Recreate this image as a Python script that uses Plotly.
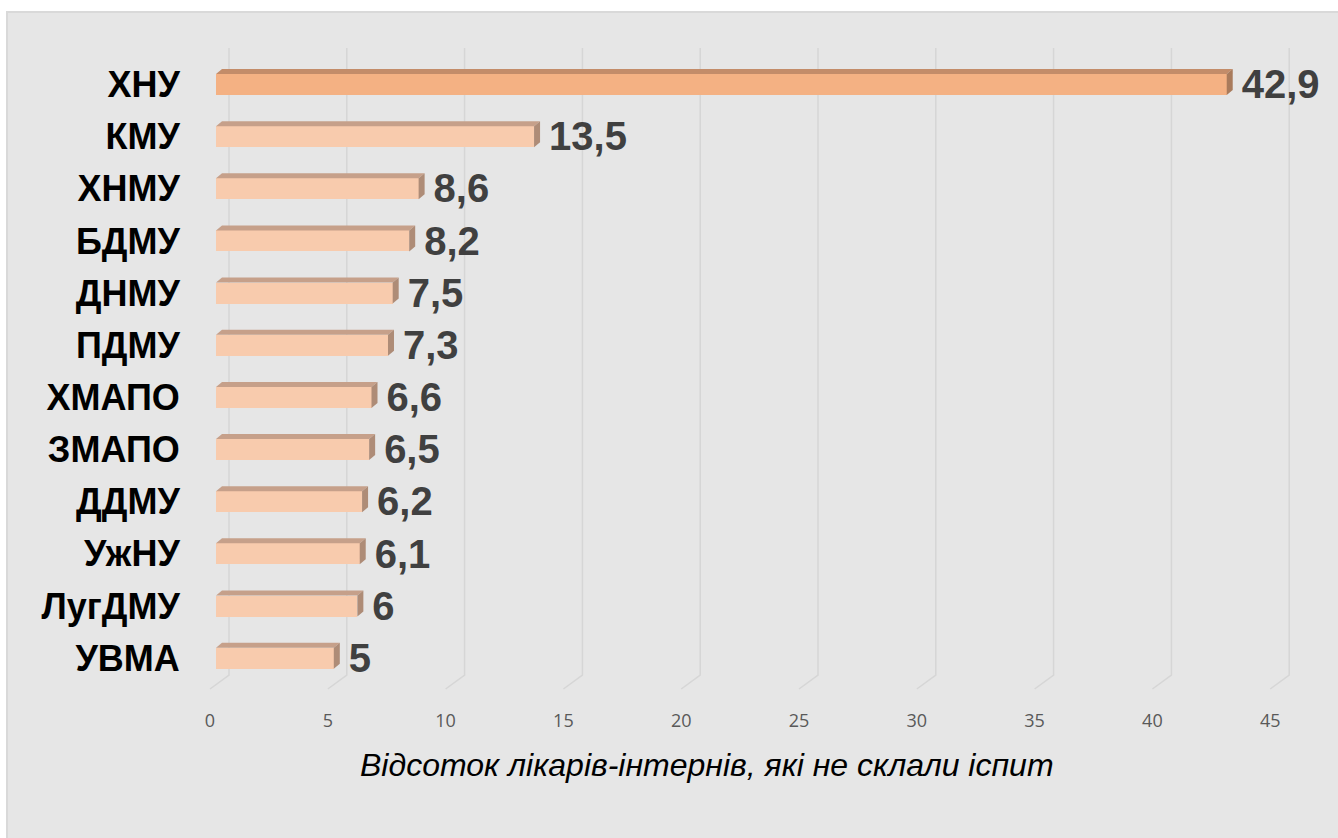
import plotly.graph_objects as go

# ---- data ----
categories = ["ХНУ", "КМУ", "ХНМУ", "БДМУ", "ДНМУ", "ПДМУ", "ХМАПО", "ЗМАПО", "ДДМУ", "УжНУ", "ЛугДМУ", "УВМА"]
values = [42.9, 13.5, 8.6, 8.2, 7.5, 7.3, 6.6, 6.5, 6.2, 6.1, 6, 5]
tick_values = [0, 5, 10, 15, 20, 25, 30, 35, 40, 45]
axis_title = "Відсоток лікарів-інтернів, які не склали іспит"

# ---- geometry (pixels) ----
W, H = 1338, 838
L, R, T, B = 195, 1310, 40, 695
SX = 23.56          # px per unit along x
SY = 52.15          # px per category
X0_FRONT = 210      # pixel of value 0 on front floor
Y0 = 84.5           # pixel of first category centre
BAR_SHIFT = 6       # bar front face offset from floor front (px)
DX, DY = 6, 5       # bar depth offsets (px)
BACK_DX = 19        # back wall offset (px)
GRID_TOP, GRID_BACK, GRID_FRONT = 48, 675, 689
BAR_H = 21
LABEL_GAP = 9

r0 = (L - X0_FRONT) / SX
r1 = (R - X0_FRONT) / SX
shift = BAR_SHIFT / SX
y_lo = (B - Y0) / SY
y_hi = (T - Y0) / SY

def ypx(p):
    return (p - Y0) / SY

pos = list(range(len(categories)))
dx = DX / SX
dy = DY / SY
hh = BAR_H / SY / 2

front_cols = ["#F4B183" if i == 0 else "#F8CBAD" for i in pos]
top_cols = ["#C38C69" if i == 0 else "#C6A08A" for i in pos]
side_cols = ["#A97B5C" if i == 0 else "#AE8C77" for i in pos]

fig = go.Figure()

# gridlines in perspective
for tv in tick_values:
    xb = tv + BACK_DX / SX
    fig.add_trace(go.Scatter(
        x=[xb, xb, tv], y=[ypx(GRID_TOP), ypx(GRID_BACK), ypx(GRID_FRONT)],
        mode="lines", line=dict(color="#D6D6D6", width=1.5),
        hoverinfo="skip", showlegend=False, xaxis="x", yaxis="y"))

# bars front faces
fig.add_trace(go.Bar(
    x=values, y=pos, orientation="h", width=2 * hh,
    marker=dict(color=front_cols, line=dict(width=0)),
    xaxis="x2", yaxis="y", showlegend=False, hoverinfo="x+y"))

# top and side faces
for i, v in zip(pos, values):
    top = i - hh
    bot = i + hh
    fig.add_trace(go.Scatter(
        x=[0, v, v + dx, dx, 0], y=[top, top, top - dy, top - dy, top],
        fill="toself", fillcolor=top_cols[i], mode="lines", line=dict(width=0, color=top_cols[i]),
        hoverinfo="skip", showlegend=False, xaxis="x2", yaxis="y"))
    fig.add_trace(go.Scatter(
        x=[v, v + dx, v + dx, v, v], y=[top, top - dy, bot - dy, bot, top],
        fill="toself", fillcolor=side_cols[i], mode="lines", line=dict(width=0, color=side_cols[i]),
        hoverinfo="skip", showlegend=False, xaxis="x2", yaxis="y"))

def fmt(v):
    return str(int(v)) if float(v).is_integer() else str(v).replace(".", ",")

fig.add_trace(go.Scatter(
    x=[v + dx + LABEL_GAP / SX for v in values], y=[i + 0.07 for i in pos],
    mode="text", text=[fmt(v) for v in values], textposition="middle right",
    textfont=dict(family="Liberation Sans, Arial, sans-serif", size=40, color="#404040", weight="bold"),
    hoverinfo="skip", showlegend=False, xaxis="x2", yaxis="y", cliponaxis=False))

pw = R - L
ph = B - T
fig.add_shape(type="rect", xref="paper", yref="paper",
              x0=(7 - L) / pw, x1=(W + 5 - L) / pw,
              y0=(B - (H + 5)) / ph, y1=(B - 12) / ph,
              fillcolor="#E6E6E6", line=dict(color="#D9D9D9", width=2), layer="below")

fig.add_annotation(text=axis_title, xref="paper", yref="paper",
                   x=(707 - L) / pw, y=(B - 765) / ph, xanchor="center", yanchor="middle",
                   showarrow=False,
                   font=dict(family="Liberation Sans, Arial, sans-serif", size=32, color="#000000", style="italic"))

fig.update_layout(
    width=W, height=H,
    margin=dict(l=L, r=W - R, t=T, b=H - B, pad=0),
    paper_bgcolor="#FFFFFF", plot_bgcolor="rgba(0,0,0,0)",
    bargap=0,
    xaxis=dict(range=[r0, r1], tickvals=tick_values, showgrid=False, zeroline=False, showline=False,
               ticks="outside", ticklen=9, tickcolor="rgba(0,0,0,0)",
               tickfont=dict(family="Open Sans, sans-serif", size=18, color="#595959"), fixedrange=True),
    xaxis2=dict(range=[r0 - shift, r1 - shift], overlaying="x", visible=False, fixedrange=True),
    yaxis=dict(range=[y_lo, y_hi], tickvals=pos, ticktext=["<b>%s</b>" % c for c in categories],
               showgrid=False, zeroline=False, showline=False,
               ticks="outside", ticklen=7, tickcolor="rgba(0,0,0,0)",
               tickfont=dict(family="Liberation Sans, Arial, sans-serif", size=36, color="#000000"), fixedrange=True),
)

fig.write_html("out.html", config={"displayModeBar": False},
               post_script="document.body.style.margin='0';document.body.style.overflow='hidden';")
